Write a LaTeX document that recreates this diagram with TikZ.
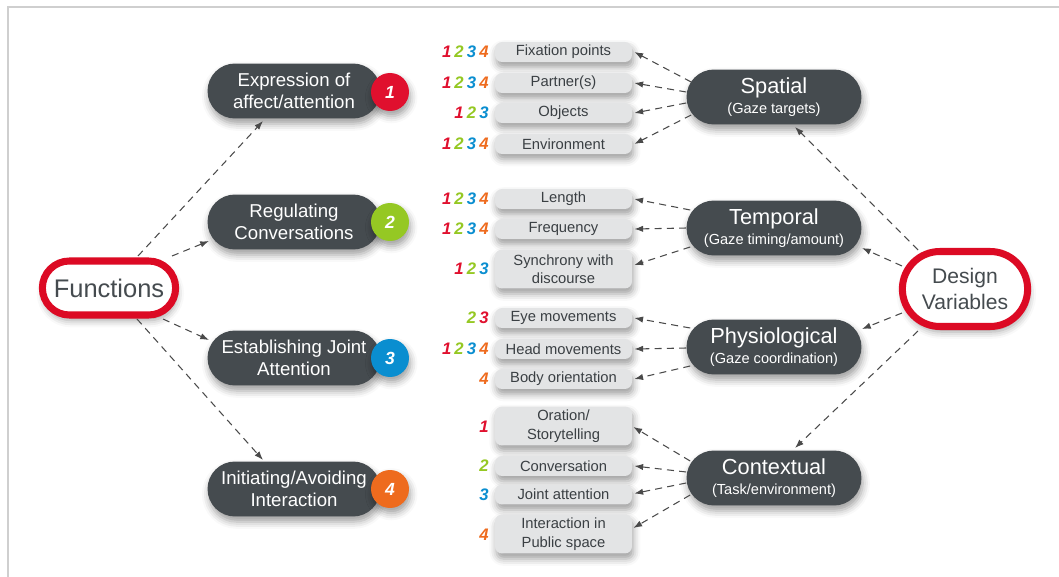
\documentclass[tikz,border=0pt]{standalone}
\usepackage{fontspec}
\setmainfont{Liberation Sans}
\usetikzlibrary{shapes.misc,arrows.meta,calc,shadows.blur}
\definecolor{dark}{HTML}{454B4F}
\definecolor{pillc}{HTML}{E3E4E5}
\definecolor{pilltext}{HTML}{3A3F43}
\definecolor{redc}{HTML}{DC0A24}
\definecolor{c1}{HTML}{E0102E}
\definecolor{c2}{HTML}{95C823}
\definecolor{c3}{HTML}{0A8ED0}
\definecolor{c4}{HTML}{EE6B1E}
\definecolor{framec}{HTML}{CFCFCF}
\definecolor{arrc}{HTML}{4A4A4A}
\newcommand{\dA}{\textcolor{c1}{1}}
\newcommand{\dB}{\textcolor{c2}{2}}
\newcommand{\dC}{\textcolor{c3}{3}}
\newcommand{\dD}{\textcolor{c4}{4}}
\newcommand{\gp}{\hspace{1.8pt}}
\begin{document}
\begin{tikzpicture}[x=0.02cm,y=-0.02cm,
  sh/.style={blur shadow={shadow xshift=0.8pt, shadow yshift=-3pt, shadow blur radius=4pt, shadow opacity=38}},
  darknode/.style={rounded rectangle, fill=dark, text=white, minimum height=1.1cm, minimum width=3.6cm, inner xsep=2pt, align=center, sh, font=\fontsize{10.6}{12.5}\selectfont},
  rightnode/.style={darknode, minimum width=3.64cm, font=\fontsize{12.4}{13}\selectfont},
  redbox/.style={rounded rectangle, draw=redc, line width=4pt, fill=white, text=dark, align=center, sh},
  badge/.style={circle, minimum size=0.76cm, inner sep=0pt, text=white, font=\fontsize{10}{10}\selectfont\bfseries\itshape, sh},
  pill/.style={rectangle, rounded corners=4pt, fill=pillc, text=pilltext, minimum width=2.74cm, minimum height=0.4cm, inner sep=1pt, align=center, font=\fontsize{8.4}{10.5}\selectfont, sh},
  tallpill/.style={pill, minimum height=0.78cm},
  digits/.style={anchor=east, inner sep=0pt, font=\fontsize{9.5}{10}\selectfont\bfseries\itshape},
  arr/.style={draw=arrc, dash pattern=on 4pt off 3pt, line width=0.6pt, -{Latex[length=5pt,width=3.6pt]}}
]
\useasboundingbox (0,0) rectangle (1059,577);
\draw[framec, line width=1.1pt] (1059,7) -- (8,7) -- (8,577);

% main red nodes
\node[redbox, minimum width=2.9cm, minimum height=1.08cm, font=\fontsize{14.5}{17}\selectfont] (fun) at (109,288) {Functions};
\node[redbox, minimum width=2.74cm, minimum height=1.5cm, font=\fontsize{12}{15.3}\selectfont] (dv) at (965,289) {Design\\Variables};

% functions
\node[darknode] (expr) at (294,91) {Expression of\\affect/attention};
\node[darknode] (reg) at (294,222) {Regulating\\Conversations};
\node[darknode] (est) at (294,358) {Establishing Joint\\Attention};
\node[darknode] (init) at (294,489) {Initiating/Avoiding\\Interaction};
\node[badge, fill=c1] (b1) at (390,92) {1};
\node[badge, fill=c2] (b2) at (390,222) {2};
\node[badge, fill=c3] (b3) at (390,358) {3};
\node[badge, fill=c4] (b4) at (390,489) {4};

% design variables
\node[rightnode] (sp) at (774,97) {Spatial\\[-1.7pt]{\fontsize{8.3}{10}\selectfont (Gaze targets)}};
\node[rightnode] (tmp) at (774,228) {Temporal\\[-1.7pt]{\fontsize{8.3}{10}\selectfont (Gaze timing/amount)}};
\node[rightnode] (phy) at (774,347) {Physiological\\[-1.7pt]{\fontsize{8.3}{10}\selectfont (Gaze coordination)}};
\node[rightnode] (ctx) at (774,478) {Contextual\\[-1.7pt]{\fontsize{8.3}{10}\selectfont (Task/environment)}};

% pills
\node[pill] (p1) at (563.5,52) {Fixation points};
\node[pill] (p2) at (563.5,83) {Partner(s)};
\node[pill] (p3) at (563.5,113) {Objects};
\node[pill] (p4) at (563.5,144) {Environment};
\node[pill] (p5) at (563.5,199) {Length};
\node[pill] (p6) at (563.5,229) {Frequency};
\node[tallpill] (p7) at (563.5,269) {Synchrony with\\discourse};
\node[pill] (p8) at (563.5,318) {Eye movements};
\node[pill] (p9) at (563.5,349) {Head movements};
\node[pill] (p10) at (563.5,379) {Body orientation};
\node[tallpill] (p11) at (563.5,426) {Oration/\\Storytelling};
\node[pill] (p12) at (563.5,466) {Conversation};
\node[pill] (p13) at (563.5,494.5) {Joint attention};
\node[tallpill] (p14) at (563.5,534) {Interaction in\\Public space};

% digits
\node[digits] (d1) at (489,52) {\dA\gp\dB\gp\dC\gp\dD};
\node[digits] (d2) at (489,83) {\dA\gp\dB\gp\dC\gp\dD};
\node[digits] (d3) at (489,113) {\dA\gp\dB\gp\dC};
\node[digits] (d4) at (489,144) {\dA\gp\dB\gp\dC\gp\dD};
\node[digits] (d5) at (489,199) {\dA\gp\dB\gp\dC\gp\dD};
\node[digits] (d6) at (489,229) {\dA\gp\dB\gp\dC\gp\dD};
\node[digits] (d7) at (489,269) {\dA\gp\dB\gp\dC};
\node[digits] (d8) at (489,318) {\dB\gp\textcolor{c1}{3}};
\node[digits] (d9) at (489,349) {\dA\gp\dB\gp\dC\gp\dD};
\node[digits] (d10) at (489,379) {\dD};
\node[digits] (d11) at (489,427) {\dA};
\node[digits] (d12) at (489,466) {\dB};
\node[digits] (d13) at (489,494.5) {\dC};
\node[digits] (d14) at (489,535) {\dD};

% Functions arrows
\draw[arr] ($(fun)+(29,-32)$) -- ($(expr)+(-31,30)$);
\draw[arr] ($(fun)+(63,-32)$) -- ($(reg)+(-85,19)$);
\draw[arr] ($(fun)+(54,31)$) -- ($(est)+(-85,-18)$);
\draw[arr] ($(fun)+(28,31)$) -- ($(init)+(-31,-29)$);

% Design variables arrows
\draw[arr] ($(dv)+(-47,-39)$) -- ($(sp)+(21,30)$);
\draw[arr] ($(dv)+(-63,-23)$) -- ($(tmp)+(88,20)$);
\draw[arr] ($(dv)+(-63,24)$) -- ($(phy)+(88,-18)$);
\draw[arr] ($(dv)+(-47,42)$) -- ($(ctx)+(21,-30)$);

% Spatial
\draw[arr] ($(sp.west)+(5,-15)$) -- ($(p1.east)+(2,0)$);
\draw[arr] ($(sp.west)+(0,-5)$) -- ($(p2.east)+(2,0)$);
\draw[arr] ($(sp.west)+(0,6)$) -- ($(p3.east)+(2,0)$);
\draw[arr] ($(sp.west)+(5,18)$) -- ($(p4.east)+(2,0)$);
% Temporal
\draw[arr] ($(tmp.west)+(4,-18)$) -- ($(p5.east)+(2,0)$);
\draw[arr] ($(tmp.west)+(0,0)$) -- ($(p6.east)+(2,0)$);
\draw[arr] ($(tmp.west)+(4,19)$) -- ($(p7.east)+(2,-4)$);
% Physiological
\draw[arr] ($(phy.west)+(4,-19)$) -- ($(p8.east)+(2,0)$);
\draw[arr] ($(phy.west)+(0,1)$) -- ($(p9.east)+(2,0)$);
\draw[arr] ($(phy.west)+(4,19)$) -- ($(p10.east)+(2,0)$);
% Contextual
\draw[arr] ($(ctx.west)+(4,-17)$) -- ($(p11.east)+(1,1)$);
\draw[arr] ($(ctx.west)+(0,-6)$) -- ($(p12.east)+(2,0)$);
\draw[arr] ($(ctx.west)+(0,5)$) -- ($(p13.east)+(2,-1)$);
\draw[arr] ($(ctx.west)+(4,17)$) -- ($(p14.east)+(1,-6)$);
\end{tikzpicture}
\end{document}
